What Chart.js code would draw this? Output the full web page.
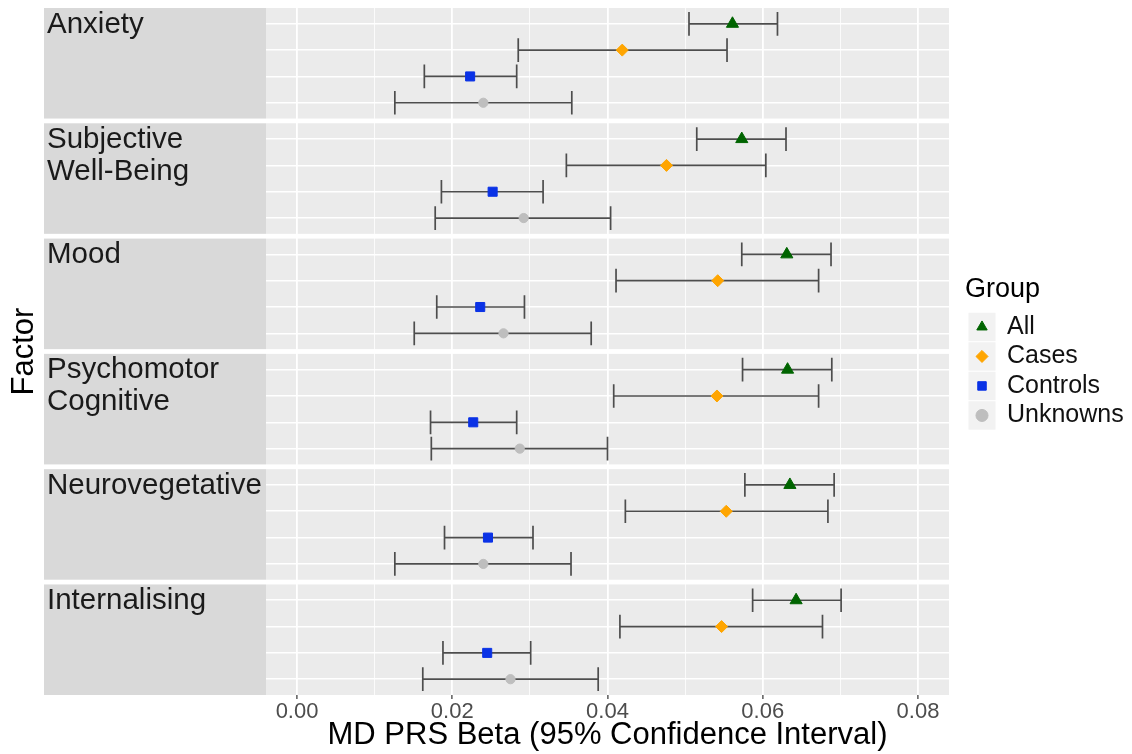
<!DOCTYPE html>
<html>
<head>
<meta charset="utf-8">
<script src="https://cdn.jsdelivr.net/npm/chart.js@4/dist/chart.umd.min.js"></script>
<style>
  html, body { margin: 0; padding: 0; background: #fff; }
  #wrap { width: 1132px; height: 754px; }
</style>
</head>
<body>
<div id="wrap"><canvas id="chart" width="1132" height="754"></canvas></div>
<script>
// facet labels, top to bottom
const factors = [['Anxiety'], ['Subjective', 'Well-Being'], ['Mood'], ['Psychomotor', 'Cognitive'], ['Neurovegetative'], ['Internalising']];
const groups = ['All', 'Cases', 'Controls', 'Unknowns'];

// beta estimates and 95% CI per group, one value per factor
const allBeta = [0.0561, 0.0573, 0.0631, 0.0632, 0.0635, 0.0643];
const allLow = [0.0505, 0.0515, 0.0573, 0.0574, 0.0577, 0.0587];
const allHigh = [0.0619, 0.0630, 0.0688, 0.0689, 0.0692, 0.0701];

const casesBeta = [0.0419, 0.0476, 0.0542, 0.0541, 0.0553, 0.0547];
const casesLow = [0.0285, 0.0347, 0.0411, 0.0408, 0.0423, 0.0416];
const casesHigh = [0.0554, 0.0604, 0.0672, 0.0672, 0.0684, 0.0677];

const controlsBeta = [0.0223, 0.0252, 0.0236, 0.0227, 0.0246, 0.0245];
const controlsLow = [0.0164, 0.0186, 0.0180, 0.0172, 0.0190, 0.0188];
const controlsHigh = [0.0283, 0.0317, 0.0293, 0.0283, 0.0304, 0.0301];

const unknownsBeta = [0.0240, 0.0292, 0.0266, 0.0287, 0.0240, 0.0275];
const unknownsLow = [0.0126, 0.0178, 0.0151, 0.0173, 0.0126, 0.0162];
const unknownsHigh = [0.0354, 0.0404, 0.0379, 0.0400, 0.0353, 0.0388];

const majorTicks = [0, 0.02, 0.04, 0.06, 0.08];
const majorLabels = ['0.00', '0.02', '0.04', '0.06', '0.08'];
const minorTicks = [0.01, 0.03, 0.05, 0.07];

const betas = [allBeta, casesBeta, controlsBeta, unknownsBeta];
const lows = [allLow, casesLow, controlsLow, unknownsLow];
const highs = [allHigh, casesHigh, controlsHigh, unknownsHigh];

// styles
const colors = ['#006400', '#ffa500', '#0a32e6', '#bebebe'];
const shapes = ['triangle', 'rectRot', 'rect', 'circle'];
const radii = [7, 6, 6.4, 4.6];
const FONT = "'Liberation Sans', Arial, Helvetica, sans-serif";
const LEGEND_FONT = 25;

// facet geometry in y units (4 rows, 0.6 expansion each side)
const panelSpan = 4.2;
const panelGap = 0.18;
const pitch = panelSpan + panelGap;
const yMax = (factors.length - 1) * pitch + panelSpan;
const rowValue = (k, gi) => k * pitch + 0.6 + gi;
const capHalf = 0.45;

Chart.defaults.font.family = FONT;

const rowTicks = [];
factors.forEach((f, k) => groups.forEach((g, gi) => rowTicks.push(rowValue(k, gi))));

const facetPlugin = {
  id: 'facets',
  beforeUpdate(chart) {
    const lg = chart.legend;
    if (lg && !lg._patched) {
      const fit = lg.fit;
      lg.fit = function () { fit.call(this); this.width = 183; };
      lg._patched = true;
    }
  },
  afterLayout(chart) {
    const lg = chart.legend;
    lg.left = 965;
    lg.right = lg.left + lg.width;
    lg.top -= 26;
    lg.bottom -= 26;
  },
  beforeDraw(chart) {
    const { ctx, chartArea: a, scales: { y } } = chart;
    ctx.save();
    factors.forEach((lines, k) => {
      const top = y.getPixelForValue(k * pitch);
      const bot = y.getPixelForValue(k * pitch + panelSpan);
      ctx.fillStyle = '#ebebeb';
      ctx.fillRect(a.left, top, a.right - a.left, bot - top);
      ctx.fillStyle = '#d9d9d9';
      ctx.fillRect(44, top, a.left - 44, bot - top);
      ctx.fillStyle = '#1a1a1a';
      ctx.font = '29.5px ' + FONT;
      ctx.textAlign = 'left';
      ctx.textBaseline = 'alphabetic';
      lines.forEach((t, li) => ctx.fillText(t, 47, top + 24.5 + li * 32));
    });
    // legend key backgrounds
    const lg = chart.legend;
    if (lg && lg.legendHitBoxes) {
      ctx.fillStyle = '#f2f2f2';
      lg.legendHitBoxes.forEach(hb => {
        const cx = hb.left + LEGEND_FONT / 2, cy = hb.top + LEGEND_FONT / 2;
        ctx.fillRect(cx - 13.5, cy - 14.2, 27, 28.4);
      });
    }
    ctx.restore();
  },
  beforeDatasetsDraw(chart) {
    const { ctx, scales: { x, y } } = chart;
    ctx.save();
    ctx.strokeStyle = '#4d4d4d';
    ctx.lineWidth = 1.7;
    groups.forEach((g, gi) => {
      lows[gi].forEach((lo, k) => {
        const yv = rowValue(k, gi);
        const py = y.getPixelForValue(yv);
        const ph = Math.abs(y.getPixelForValue(yv + capHalf) - py);
        const x1 = x.getPixelForValue(lo);
        const x2 = x.getPixelForValue(highs[gi][k]);
        ctx.beginPath();
        ctx.moveTo(x1, py); ctx.lineTo(x2, py);
        ctx.moveTo(x1, py - ph); ctx.lineTo(x1, py + ph);
        ctx.moveTo(x2, py - ph); ctx.lineTo(x2, py + ph);
        ctx.stroke();
      });
    });
    ctx.restore();
  }
};

new Chart(document.getElementById('chart'), {
  type: 'scatter',
  data: {
    datasets: groups.map((g, gi) => ({
      label: g,
      data: betas[gi].map((v, k) => ({ x: v, y: rowValue(k, gi) })),
      pointStyle: shapes[gi],
      pointRadius: radii[gi],
      pointHoverRadius: radii[gi],
      backgroundColor: colors[gi],
      borderColor: colors[gi],
      borderWidth: 1
    }))
  },
  options: {
    responsive: false,
    animation: false,
    layout: { padding: { top: 6, left: 0, right: 0, bottom: 0 } },
    scales: {
      x: {
        type: 'linear',
        position: 'bottom',
        min: -0.004,
        max: 0.084,
        afterBuildTicks: s => {
          s.ticks = [...majorTicks, ...minorTicks].sort((a, b) => a - b).map(v => ({ value: v }));
        },
        afterFit: s => { s.height = 59; },
        ticks: {
          autoSkip: false,
          maxRotation: 0,
          padding: 0,
          color: '#4d4d4d',
          font: { size: 22 },
          callback: v => {
            const i = majorTicks.indexOf(v);
            return i >= 0 ? majorLabels[i] : '';
          }
        },
        grid: {
          color: '#ffffff',
          lineWidth: c => (majorTicks.includes(c.tick && c.tick.value) ? 1.8 : 0.8),
          tickLength: 4,
          tickWidth: 1.2,
          tickColor: c => (majorTicks.includes(c.tick && c.tick.value) ? '#333333' : 'rgba(0,0,0,0)')
        },
        border: { display: false },
        title: {
          display: true,
          text: 'MD PRS Beta (95% Confidence Interval)',
          color: '#000',
          font: { size: 31 },
          padding: { top: 0, bottom: 0 }
        }
      },
      y: {
        type: 'linear',
        reverse: true,
        min: 0,
        max: yMax,
        afterBuildTicks: s => { s.ticks = rowTicks.map(v => ({ value: v })); },
        afterFit: s => { s.width = 266; },
        ticks: { display: false },
        grid: { color: '#ffffff', lineWidth: 1.6, drawTicks: false },
        border: { display: false },
        title: {
          display: true,
          text: 'Factor',
          color: '#000',
          font: { size: 31 },
          padding: { top: 6, bottom: 0 }
        }
      }
    },
    plugins: {
      tooltip: { enabled: false },
      legend: {
        position: 'right',
        align: 'center',
        title: {
          display: true,
          text: 'Group',
          color: '#000',
          position: 'start',
          font: { size: 27 },
          padding: { top: 0, bottom: 2 }
        },
        labels: {
          usePointStyle: true,
          boxHeight: 8.5,
          padding: 4.5,
          color: '#111',
          font: { size: LEGEND_FONT }
        }
      }
    }
  },
  plugins: [facetPlugin]
});
</script>
</body>
</html>
